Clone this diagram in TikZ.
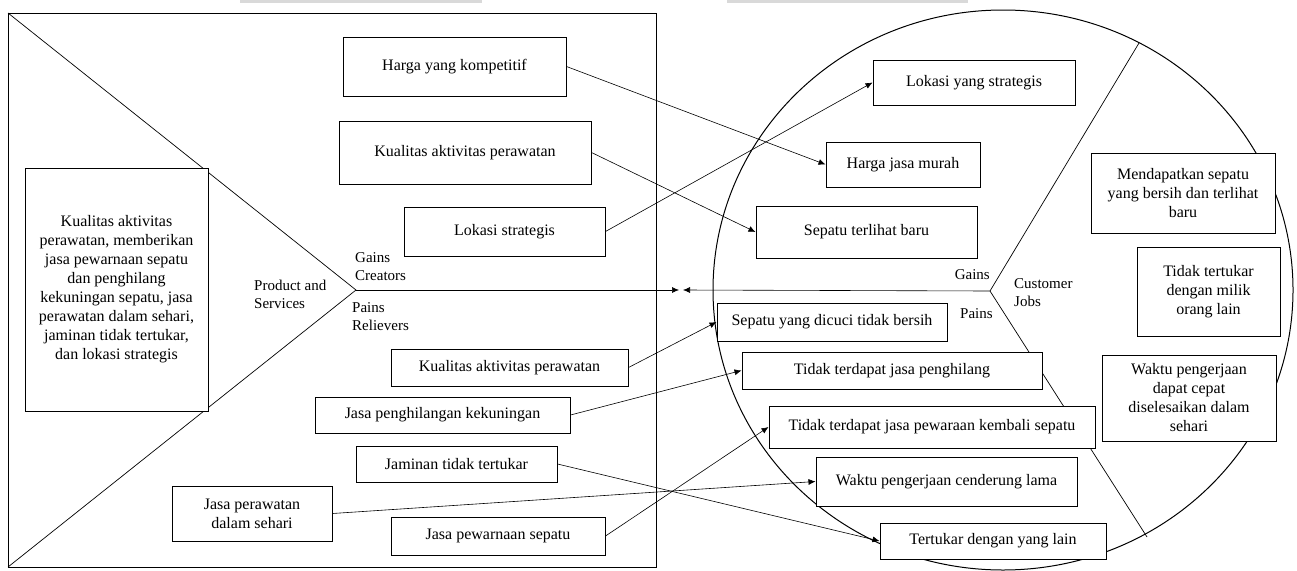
\documentclass[tikz,border=0pt]{standalone}
\usepackage{fontspec}
\setmainfont{Liberation Serif}
\usepackage{tikz}
\usetikzlibrary{positioning, arrows.meta, calc}

\begin{document}
\begin{tikzpicture}[
    x=1pt, y=-1pt,
    >={Latex[length=7pt, width=6pt]},
    box/.style={draw, fill=white, line width=1pt, align=center, inner sep=2pt,
        font=\fontsize{16}{19}\selectfont},
    lbl/.style={inner sep=0pt, align=left, font=\fontsize{15}{18}\selectfont},
    link/.style={->, line width=0.6pt}
]
    \useasboundingbox (0,0) rectangle (1297,570);
    \fill[gray!30] (240,0) rectangle (482,3);
    \fill[gray!30] (727,0) rectangle (968,3);

    \coordinate (tl) at (8,13);
    \coordinate (bl) at (8,567);
    \coordinate (vp) at (356,290);
    \coordinate (vpend) at (679,290);
    \coordinate (cj) at (990,291);
    \coordinate (cjend) at (683,290);
    \coordinate (ct) at (1139,43);
    \coordinate (cb) at (1147,537);

    \draw[line width=1pt] (tl) rectangle (656,567);
    \draw[line width=0.7pt] (tl) -- (vp) -- (bl);
    \draw[line width=1pt] (1003,290) ellipse [x radius=290pt, y radius=280pt];
    \draw[line width=0.7pt] (ct) -- (cj) -- (cb);

    \node[box, minimum width=183pt, minimum height=243pt] (pc) at (116.5,289.5)
        {Kualitas aktivitas\\perawatan, memberikan\\jasa pewarnaan sepatu\\dan penghilang\\kekuningan sepatu, jasa\\perawatan dalam sehari,\\jaminan tidak tertukar,\\dan lokasi strategis};

    \node[box, minimum width=223pt, minimum height=59pt] (g1) at (454.5,66.5) {Harga yang kompetitif};
    \node[box, minimum width=252pt, minimum height=63pt] (g2) at (465,152.5) {Kualitas aktivitas perawatan};
    \node[box, minimum width=201pt, minimum height=49pt] (g3) at (504.5,231.5) {Lokasi strategis};

    \node[box, minimum width=237pt, minimum height=37pt] (p1) at (509.5,367.5) {Kualitas aktivitas perawatan};
    \node[box, minimum width=255pt, minimum height=36pt] (p2) at (442.5,415) {Jasa penghilangan kekuningan};
    \node[box, minimum width=201pt, minimum height=36pt] (p3) at (456.5,464) {Jaminan tidak tertukar};
    \node[box, minimum width=160pt, minimum height=55pt] (p4) at (252,513.5) {Jasa perawatan\\dalam sehari};
    \node[box, minimum width=214pt, minimum height=38pt] (p5) at (498,536) {Jasa pewarnaan sepatu};

    \node[box, minimum width=202pt, minimum height=45pt] (cg1) at (974,82.5) {Lokasi yang strategis};
    \node[box, minimum width=154pt, minimum height=45pt] (cg2) at (903,164.5) {Harga jasa murah};
    \node[box, minimum width=221pt, minimum height=52pt] (cg3) at (866.5,232) {Sepatu terlihat baru};

    \node[box, minimum width=184pt, minimum height=80pt] (cj1) at (1183,193)
        {Mendapatkan sepatu\\yang bersih dan terlihat\\baru};
    \node[box, minimum width=143pt, minimum height=89pt] (cj2) at (1208.5,291.5)
        {Tidak tertukar\\dengan milik\\orang lain};
    \node[box, minimum width=174pt, minimum height=86pt] (cj3) at (1189,398)
        {Waktu pengerjaan\\dapat cepat\\diselesaikan dalam\\sehari};

    \node[box, minimum width=230pt, minimum height=38pt] (cp1) at (832,322) {Sepatu yang dicuci tidak bersih};
    \node[box, minimum width=300pt, minimum height=37pt] (cp2) at (892,370.5) {Tidak terdapat jasa penghilang};
    \node[box, minimum width=326pt, minimum height=42pt] (cp3) at (932,427) {Tidak terdapat jasa pewaraan kembali sepatu};
    \node[box, minimum width=261pt, minimum height=49pt] (cp4) at (946.5,481.5) {Waktu pengerjaan cenderung lama};
    \node[box, minimum width=226pt, minimum height=36pt] (cp5) at (993,541) {Tertukar dengan yang lain};

    \node[lbl, anchor=west] (ps) at (254,294.5) {Product and\\Services};
    \node[lbl, anchor=west] (gc) at (355,267) {Gains\\Creators};
    \node[lbl, anchor=west] (pr) at (352,316.5) {Pains\\Relievers};
    \node[lbl, anchor=east] (gn) at (990,275) {Gains};
    \node[lbl, anchor=west] (cu) at (1014,293) {Customer\\Jobs};
    \node[lbl, anchor=west] (pn) at (960,314) {Pains};

    \draw[link] (vp) -- (vpend);
    \draw[link] (cj) -- (cjend);

    \path[link]
        (g1.east) edge (cg2.west)
        (g2.east) edge (cg3.west)
        (g3.east) edge (cg1.west)
        (p1.east) edge (cp1.west)
        (p2.east) edge (cp2.west)
        (p5.east) edge (cp3.west)
        (p4.east) edge (cp4.west)
        (p3.east) edge (cp5.west);
\end{tikzpicture}
\end{document}
